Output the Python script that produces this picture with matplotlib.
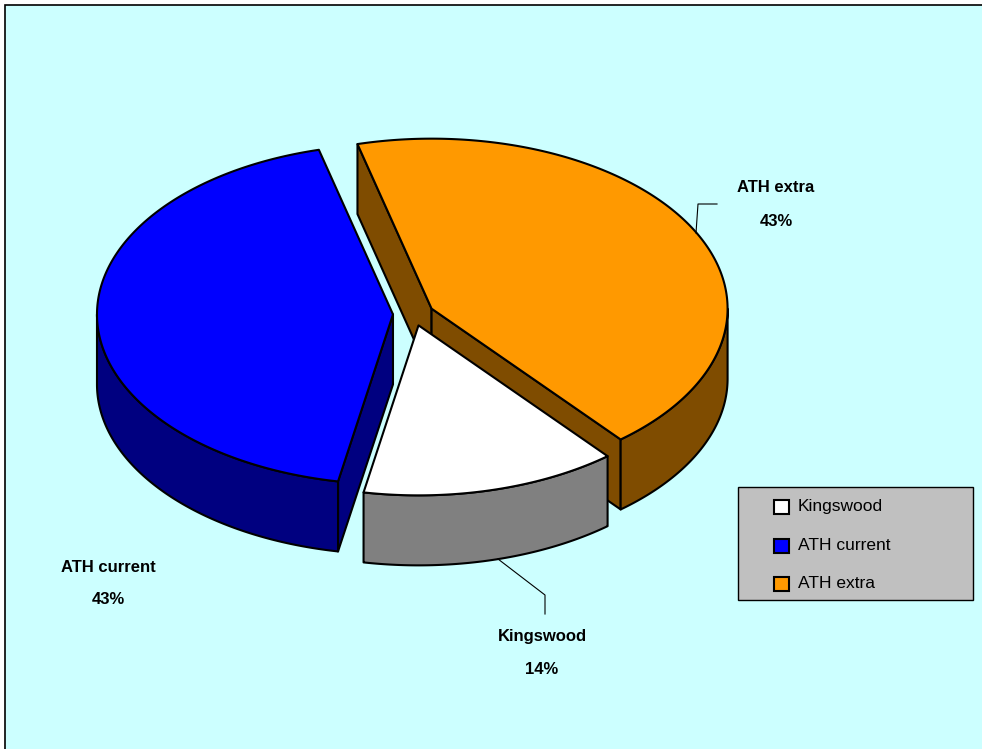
import numpy as np
import matplotlib.pyplot as plt
from matplotlib.patches import Polygon, Rectangle

# pie data
labels = ['Kingswood', 'ATH current', 'ATH extra']
shares = [14, 43, 43]
top_colors = ['#FFFFFF', '#0000FF', '#FF9900']
side_colors = ['#808080', '#000080', '#7F4C00']

# label placement (pixels) and leader lines
label_xy = [(542, 637), (108, 567), (776, 188)]
leaders = [[(498, 559), (545, 595), (545, 614)],
           None,
           [(717, 204), (698, 204), (696, 233)]]

# 3d pie geometry, in pixels
cx, cy = 413.4, 314.0
rx, ry = 296.0, 170.0
depth = 70.0
explode = 0.069
start = -50.3          # first slice edge, slices run clockwise

fig = plt.figure(figsize=(9.82, 7.49), dpi=100)
ax = fig.add_axes([0, 0, 1, 1])
ax.set_xlim(0, 982)
ax.set_ylim(749, 0)
ax.axis('off')

ax.add_patch(Rectangle((5, 5), 1000, 800, facecolor='#CCFFFF',
                       edgecolor='black', lw=1.2, zorder=0))


def arc(t_from, t_to, ox, oy, z=0.0, n=200):
    t = np.radians(np.linspace(t_from, t_to, n))
    return np.column_stack([cx + ox + rx*np.cos(t), cy + oy - ry*np.sin(t) + z])


def point(t, ox, oy, z=0.0):
    r = np.radians(t)
    return (cx + ox + rx*np.cos(r), cy + oy - ry*np.sin(r) + z)


total = float(sum(shares))
slices = []
t = start
for i, s in enumerate(shares):
    span = 360.0*s/total
    t1, t2 = t, t - span
    mid = np.radians((t1 + t2)/2)
    ox = explode*rx*np.cos(mid)
    oy = -explode*ry*np.sin(mid)
    slices.append((i, t1, t2, ox, oy))
    t = t2

edge = dict(edgecolor='black', lw=1.5, joinstyle='round')

# back slices first
for i, t1, t2, ox, oy in sorted(slices, key=lambda p: p[4]):
    apex = (cx + ox, cy + oy)
    apex_b = (cx + ox, cy + oy + depth)

    # radial walls facing the viewer
    if np.cos(np.radians(t1)) < 0:
        wall = [apex, point(t1, ox, oy), point(t1, ox, oy, depth), apex_b]
        ax.add_patch(Polygon(wall, facecolor=side_colors[i], **edge))
    if np.cos(np.radians(t2)) > 0:
        wall = [apex, point(t2, ox, oy), point(t2, ox, oy, depth), apex_b]
        ax.add_patch(Polygon(wall, facecolor=side_colors[i], **edge))

    # outer wall on the front half of the rim
    for k in range(-2, 2):
        lo = max(t2, -180 + 360*k)
        hi = min(t1, 360*k)
        if hi > lo:
            top = arc(hi, lo, ox, oy)
            bot = arc(lo, hi, ox, oy, depth)
            ax.add_patch(Polygon(np.vstack([top, bot]),
                                 facecolor=side_colors[i], **edge))

    # top face
    face = np.vstack([[apex], arc(t1, t2, ox, oy)])
    ax.add_patch(Polygon(face, facecolor=top_colors[i], **edge))

# data labels
font = dict(family='Liberation Sans', fontweight='bold', fontsize=12,
            ha='center', va='center', color='black')
for i, s in enumerate(shares):
    x, y = label_xy[i]
    ax.text(x, y, labels[i], **font)
    ax.text(x, y + 33, f'{round(100*s/total)}%', **font)
    if leaders[i]:
        xs, ys = zip(*leaders[i])
        ax.plot(xs, ys, color='black', lw=0.8)

# legend
ax.add_patch(Rectangle((738, 487), 235, 113, facecolor='#C0C0C0',
                       edgecolor='black', lw=1.0))
for i, lab in enumerate(labels):
    y = 507 + 38.5*i
    ax.add_patch(Rectangle((774, y - 7), 15, 14, facecolor=top_colors[i],
                           edgecolor='black', lw=1.5))
    ax.text(798, y, lab, family='Liberation Sans', fontsize=12.5,
            ha='left', va='center', color='black')

fig.savefig('out.png', dpi=100)
